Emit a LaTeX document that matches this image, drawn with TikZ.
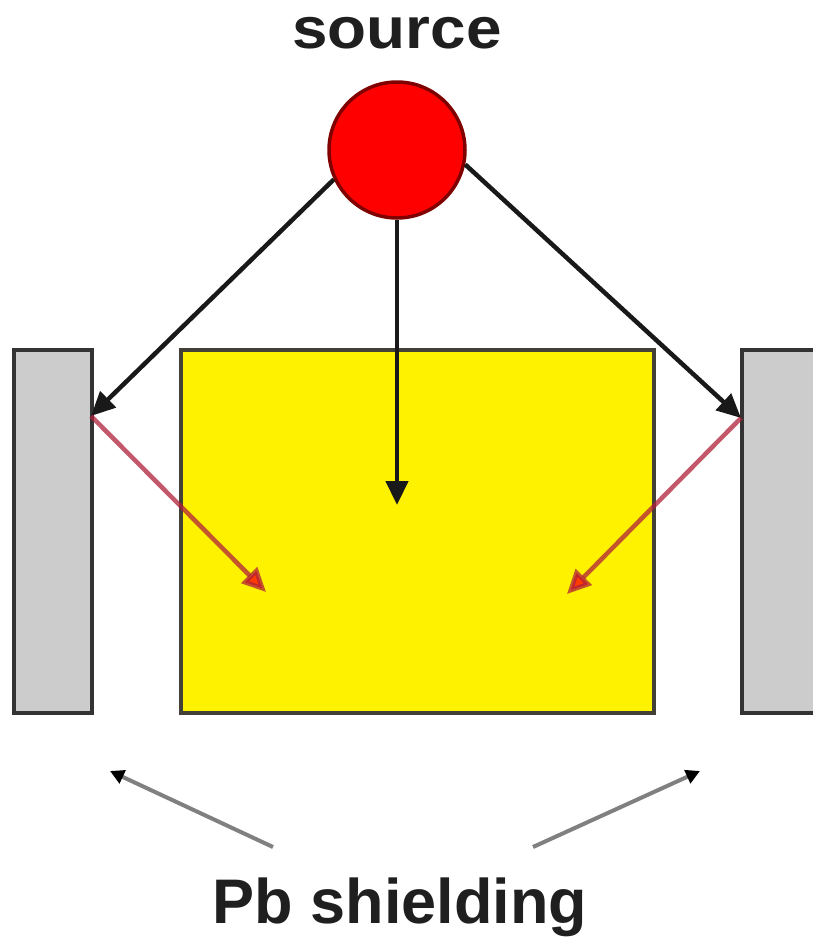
\documentclass[tikz,border=0pt]{standalone}
\usepackage{fontspec}
\setmainfont{Liberation Sans}
\usetikzlibrary{arrows.meta}

\definecolor{shieldgrey}{HTML}{CCCCCC}
\definecolor{srcred}{HTML}{FF0000}
\definecolor{raycol}{HTML}{B0203A}

\begin{document}
\begin{tikzpicture}[
  x=1pt, y=-1pt,
  label/.style={font=\fontsize{63}{70}\selectfont\bfseries, text=black!88, inner sep=0pt, anchor=base},
  shield/.style={draw=black!80, line width=4pt, fill=shieldgrey, minimum width=78pt, minimum height=363pt, inner sep=0pt},
  detector/.style={draw=black!85!yellow, line width=4pt, fill=yellow, minimum width=473pt, minimum height=363pt, inner sep=0pt},
  ray/.style={draw=black!90, line width=4.5pt, -{Triangle[length=24pt,width=22pt]}},
  scatter/.style={draw=raycol, line width=4.5pt, opacity=0.75, -{Triangle[length=24pt,width=22pt,fill=srcred]}},
  pointer/.style={draw=black!50, line width=4pt, -{Triangle[length=14pt,width=14pt,color=black]}}
]
\useasboundingbox (0,0) rectangle (813,937);

% ---- shields and detector ----
\node[shield]   (lshield) at (53,531.5)    {};
\node[shield, minimum width=88pt] (rshield) at (786,531.5) {};
\node[detector] (det)     at (417.5,531.5) {};

% ---- source ----
\node[circle, draw=srcred!50!black, line width=3.5pt, fill=srcred, minimum size=136pt, inner sep=0pt] (src) at (397,150) {};
\node[label, font=\fontsize{58}{64}\selectfont\bfseries, xscale=1.1] (srcname) at (397,48) {source};

% ---- hit points ----
\coordinate (lhit) at (91,416);
\coordinate (rhit) at (741,418);
\coordinate (cend) at (397,505);
\coordinate (lend) at (266,592);
\coordinate (rend) at (567,594);

% ---- rays from the source ----
\draw[ray] (src.205) -- (lhit);
\draw[ray] (src.-12) -- (rhit);
\draw[ray] (src.south) -- (cend);

% ---- scattered rays ----
\draw[scatter] (lhit) -- (lend);
\draw[scatter] (rhit) -- (rend);

% ---- Pb shielding label ----
\node[label] (pbname) at (400,923) {Pb shielding};
\coordinate (lptr) at (273,847);
\coordinate (rptr) at (533,847);
\coordinate (ltip) at (110,771);
\coordinate (rtip) at (700,771);
\draw[pointer] (lptr) -- (ltip);
\draw[pointer] (rptr) -- (rtip);

\end{tikzpicture}
\end{document}
